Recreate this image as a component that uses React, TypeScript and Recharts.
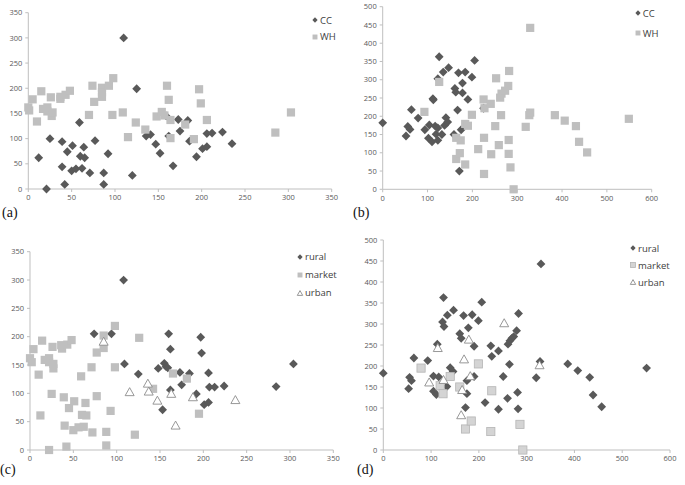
import React from "react";
import { ScatterChart, Scatter, XAxis, YAxis } from "recharts";

// ---- panel (a): CC vs WH ----
const ccA = [
  [12, 62], [21, 0], [25, 100], [39, 94], [39, 44], [42, 9], [45, 74], [51, 86],
  [50, 36], [55, 40], [59, 132], [60, 65], [62, 41], [64, 83], [65, 62], [71, 32],
  [77, 96], [87, 32], [87, 9], [92, 70], [110, 300], [120, 27], [125, 199],
  [136, 105], [141, 108], [147, 89], [152, 71], [159, 145], [162, 105], [167, 46],
  [173, 138], [175, 115], [184, 136], [186, 95], [194, 64], [201, 80], [206, 84],
  [206, 110], [212, 111], [224, 113], [235, 90],
];
const whA = [
  [0, 162], [1, 156], [5, 178], [10, 134], [15, 194], [17, 159], [22, 162], [22, 154],
  [26, 182], [27, 145], [28, 152], [37, 183], [37, 179], [43, 187], [48, 195],
  [70, 147], [74, 205], [76, 173], [85, 201], [85, 192], [85, 183], [93, 205],
  [98, 220], [97, 147], [109, 152], [115, 103], [124, 132], [135, 118], [148, 144],
  [154, 153], [157, 146], [160, 205], [162, 177], [164, 101], [164, 137], [181, 128],
  [191, 99], [197, 198], [199, 170], [206, 137], [285, 112], [303, 152],
];

// ---- panel (b): CC vs WH ----
const ccB = [
  [0, 182], [52, 146], [56, 172], [61, 164], [64, 218], [79, 195], [94, 163],
  [102, 140], [104, 176], [110, 130], [112, 248], [113, 245], [117, 173], [119, 151],
  [123, 168], [123, 134], [123, 303], [126, 363], [132, 150], [135, 321], [138, 175],
  [141, 196], [145, 184], [147, 333], [159, 150], [161, 276], [163, 266], [167, 217],
  [169, 319], [171, 50], [175, 163], [178, 291], [178, 264], [184, 321], [190, 246],
  [199, 307], [205, 353], [225, 222],
];
const whB = [
  [93, 212], [126, 294], [164, 141], [164, 83], [174, 134], [172, 99], [184, 179],
  [184, 68], [190, 174], [199, 204], [213, 110], [225, 246], [227, 222], [226, 141],
  [226, 42], [241, 234], [242, 96], [251, 173], [253, 304], [259, 121], [262, 251],
  [265, 262], [264, 203], [273, 270], [280, 283], [282, 324], [281, 135], [281, 97],
  [285, 60], [292, 0], [319, 171], [327, 203], [329, 210], [329, 442], [384, 203],
  [406, 188], [431, 173], [438, 130], [456, 101], [549, 193],
];

// ---- panel (c): rural / market / urban ----
const ruralC = [
  [108, 300], [74, 205], [94, 205], [109, 152], [125, 134], [148, 144], [155, 153],
  [157, 147], [159, 145], [160, 205], [162, 178], [162, 106], [153, 71], [173, 137],
  [175, 115], [184, 135], [192, 99], [197, 199], [198, 171], [201, 80], [206, 84],
  [206, 136], [207, 111], [213, 111], [224, 113], [284, 112], [304, 152],
];
const marketC = [
  [0, 162], [2, 155], [4, 178], [10, 133], [12, 61], [14, 193], [17, 159], [22, 162],
  [22, 155], [22, 0], [25, 99], [26, 182], [27, 144], [27, 152], [36, 185], [37, 179],
  [39, 93], [40, 43], [43, 186], [42, 6], [45, 74], [48, 194], [51, 86], [50, 35],
  [56, 40], [59, 130], [60, 62], [62, 41], [64, 83], [65, 61], [71, 146], [72, 31],
  [77, 172], [77, 95], [85, 202], [85, 180], [88, 32], [88, 8], [93, 69], [98, 219],
  [98, 146], [121, 27], [126, 198], [142, 108], [165, 135], [181, 126], [195, 64],
];
const urbanC = [
  [85, 192], [115, 103], [136, 118], [137, 104], [147, 88], [163, 100], [188, 94],
  [168, 44], [237, 89],
];

// ---- panel (d): rural / market / urban ----
const ruralD = [
  [0, 183], [53, 146], [55, 173], [59, 165], [64, 219], [93, 213], [105, 176],
  [105, 140], [111, 132], [113, 252], [116, 174], [124, 305], [126, 363], [127, 294],
  [133, 151], [134, 321], [140, 196], [146, 187], [147, 333], [160, 277], [163, 266],
  [168, 320], [178, 291], [175, 134], [175, 165], [172, 101], [186, 322], [190, 247],
  [190, 175], [199, 308], [206, 352], [213, 113], [225, 248], [227, 223], [241, 236],
  [241, 97], [251, 175], [260, 123], [261, 252], [264, 204], [265, 260], [269, 266],
  [273, 270], [279, 284], [283, 325], [281, 137], [282, 98], [320, 172], [328, 211],
  [330, 443], [386, 205], [407, 189], [432, 173], [439, 131], [457, 103], [551, 195],
];
const marketD = [
  [79, 195], [119, 153], [125, 134], [140, 175], [160, 150], [172, 50], [184, 69],
  [199, 205], [227, 141], [225, 44], [286, 61], [292, 0],
];
const urbanD = [
  [96, 162], [114, 244], [126, 168], [163, 84], [165, 144], [169, 217], [179, 264],
  [182, 177], [253, 303], [327, 203],
];

const ticks350 = [0, 50, 100, 150, 200, 250, 300, 350];
const ticks600 = [0, 100, 200, 300, 400, 500, 600];
const ticks500 = [0, 50, 100, 150, 200, 250, 300, 350, 400, 450, 500];

const toPoints = (arr: number[][]) => arr.map(([x, y]) => ({ x, y }));

const DARK = "#595959";
const LIGHT = "#bfbfbf";
const AXIS = "#bfbfbf";
const FONT = "'Open Sans', 'Liberation Sans', sans-serif";

type Kind = "diamond" | "square" | "triangle";

const Marker = ({ kind, cx, cy, s = 1, light = LIGHT }: { kind: Kind; cx: number; cy: number; s?: number; light?: string }) => {
  if (kind === "diamond") {
    const h = 4.4 * s;
    return <polygon points={`${cx},${cy - h} ${cx + h},${cy} ${cx},${cy + h} ${cx - h},${cy}`} fill={DARK} />;
  }
  if (kind === "square") {
    const h = 4.1 * s;
    return <rect x={cx - h} y={cy - h} width={2 * h} height={2 * h} fill={light} stroke={light === LIGHT ? "none" : "#b5b5b5"} strokeWidth={0.8} />;
  }
  const w = 4.5 * s;
  const t = 4 * s;
  return (
    <polygon
      points={`${cx},${cy - t} ${cx + w},${cy + t} ${cx - w},${cy + t}`}
      fill="#fff"
      stroke="#8c8c8c"
      strokeWidth={0.9}
    />
  );
};

type Series = { name: string; kind: Kind; data: number[][]; light?: string };

type PanelProps = {
  left: number;
  top: number;
  width: number;
  height: number;
  margin: { top: number; right: number; bottom: number; left: number };
  yWidth: number;
  xMax: number;
  xTicks: number[];
  yMax: number;
  yTicks: number[];
  series: Series[];
  legend: { x: number; y: number; gap: number };
};

const Panel = (p: PanelProps) => (
  <div style={{ position: "absolute", left: p.left, top: p.top, width: p.width, height: p.height }}>
    <ScatterChart width={p.width} height={p.height} margin={p.margin}>
      <XAxis
        type="number"
        dataKey="x"
        domain={[0, p.xMax]}
        ticks={p.xTicks}
        height={15}
        stroke={AXIS}
        tickSize={3}
        tickMargin={3}
        tick={{ fill: DARK, fontSize: 7.5, fontFamily: FONT }}
      />
      <YAxis
        type="number"
        dataKey="y"
        domain={[0, p.yMax]}
        ticks={p.yTicks}
        width={p.yWidth}
        stroke={AXIS}
        tickSize={3}
        tickMargin={3}
        tick={{ fill: DARK, fontSize: 7.5, fontFamily: FONT }}
      />
      {p.series.map((s) => (
        <Scatter
          key={s.name}
          name={s.name}
          data={toPoints(s.data)}
          isAnimationActive={false}
          shape={(sp: any) => <Marker kind={s.kind} cx={sp.cx} cy={sp.cy} light={s.light} />}
        />
      ))}
    </ScatterChart>
    <div style={{ position: "absolute", left: p.legend.x - p.left, top: p.legend.y - p.top }}>
      {p.series.map((s, i) => (
        <div
          key={s.name}
          style={{
            position: "absolute",
            left: 0,
            top: i * p.legend.gap - 7,
            height: 14,
            display: "flex",
            alignItems: "center",
            whiteSpace: "nowrap",
            fontFamily: FONT,
            fontSize: 9.5,
            color: "#404040",
          }}
        >
          <svg width={8} height={14} style={{ marginLeft: -4 }}>
            <Marker kind={s.kind} cx={4} cy={7} s={0.6} light={s.light} />
          </svg>
          <span style={{ marginLeft: 1 }}>{s.name}</span>
        </div>
      ))}
    </div>
  </div>
);

const labelStyle: React.CSSProperties = {
  position: "absolute",
  fontFamily: "'Liberation Serif', 'DejaVu Serif', serif",
  fontSize: 14,
  color: "#111",
  lineHeight: "16px",
};

export default function App() {
  return (
    <div style={{ position: "absolute", left: 0, top: 0, width: 685, height: 485, background: "#fff", overflow: "hidden" }}>
      <Panel
        left={0}
        top={0}
        width={340}
        height={210}
        margin={{ top: 12.7, right: 8.3, bottom: 6, left: 0 }}
        yWidth={28.3}
        xMax={350}
        xTicks={ticks350}
        yMax={350}
        yTicks={ticks350}
        series={[
          { name: "CC", kind: "diamond", data: ccA },
          { name: "WH", kind: "square", data: whA },
        ]}
        legend={{ x: 315, y: 20, gap: 16.5 }}
      />
      <Panel
        left={340}
        top={0}
        width={345}
        height={210}
        margin={{ top: 6.7, right: 33.3, bottom: 5.7, left: 0 }}
        yWidth={42.7}
        xMax={600}
        xTicks={ticks600}
        yMax={500}
        yTicks={ticks500}
        series={[
          { name: "CC", kind: "diamond", data: ccB },
          { name: "WH", kind: "square", data: whB },
        ]}
        legend={{ x: 637.7, y: 13.3, gap: 20 }}
      />
      <Panel
        left={0}
        top={240}
        width={340}
        height={230}
        margin={{ top: 11.7, right: 6.7, bottom: 5, left: 0 }}
        yWidth={30}
        xMax={350}
        xTicks={ticks350}
        yMax={350}
        yTicks={ticks350}
        series={[
          { name: "rural", kind: "diamond", data: ruralC },
          { name: "market", kind: "square", data: marketC },
          { name: "urban", kind: "triangle", data: urbanC },
        ]}
        legend={{ x: 300, y: 256.7, gap: 18 }}
      />
      <Panel
        left={340}
        top={230}
        width={345}
        height={240}
        margin={{ top: 10, right: 15, bottom: 5, left: 0 }}
        yWidth={43.3}
        xMax={600}
        xTicks={ticks600}
        yMax={500}
        yTicks={ticks500}
        series={[
          { name: "rural", kind: "diamond", data: ruralD },
          { name: "market", kind: "square", data: marketD, light: "#d4d4d4" },
          { name: "urban", kind: "triangle", data: urbanD },
        ]}
        legend={{ x: 633, y: 248, gap: 17 }}
      />
      <div style={{ ...labelStyle, left: 2, top: 205 }}>(a)</div>
      <div style={{ ...labelStyle, left: 353, top: 205 }}>(b)</div>
      <div style={{ ...labelStyle, left: 0, top: 462 }}>(c)</div>
      <div style={{ ...labelStyle, left: 357, top: 462 }}>(d)</div>
    </div>
  );
}
